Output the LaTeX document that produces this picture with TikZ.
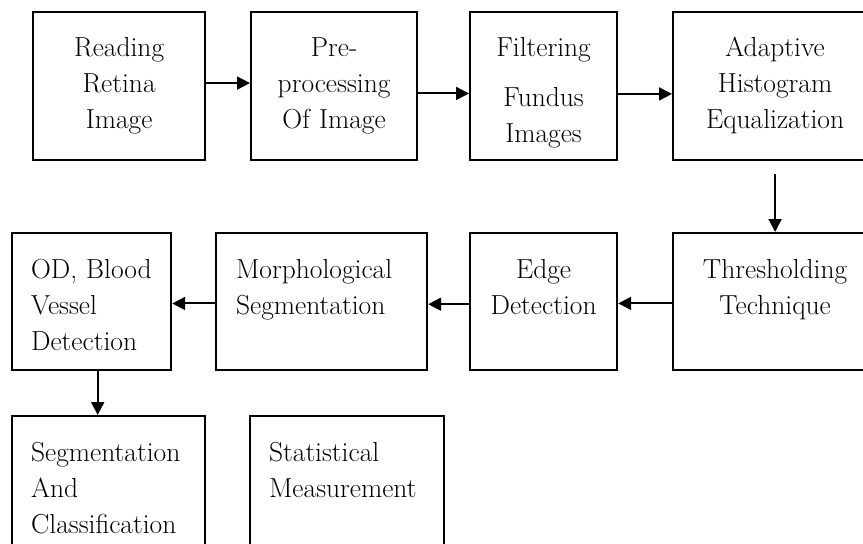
\documentclass[tikz,border=0pt]{standalone}
\usepackage{fontspec}
\usepackage{tikz}
\usetikzlibrary{shapes,arrows.meta}
\tikzstyle{line} = [draw, line width=2pt, -{Triangle[length=13pt, width=13pt]}]
\tikzstyle{stage_c} = [rectangle, draw, line width=2.2pt, anchor=north west, inner sep=0pt, text height=44pt, text depth=104pt, align=center, font=\fontsize{27.5}{36}\selectfont]
\tikzstyle{stage_l} = [rectangle, draw, line width=2.2pt, anchor=north west, inner ysep=0pt, inner xsep=19pt, text height=45pt, text depth=92pt, align=left, font=\fontsize{27.5}{36}\selectfont]
\begin{document}
\begin{tikzpicture}[x=1pt, y=-1pt]
		\useasboundingbox (0,0) rectangle (863,544);
		\clip (0,0) rectangle (863,544);

		\node[stage_c, text width=172pt] (read) at (32,11) {Reading\\Retina\\Image};
		\node[stage_c, text width=166pt] (pre) at (250,11) {Pre-\\processing\\Of Image};
		\node[stage_c, text width=147pt] (filt) at (469,11) {Filtering\\[14pt]Fundus\\Images};
		\node[stage_c, text width=204pt] (ahe) at (672,11) {Adaptive\\Histogram\\Equalization};
		\path [line] (read.2.7) to (read.2.7 -| pre.west);
		\path [line] (pre.-5.5) to (pre.-5.5 -| filt.west);
		\path [line] (filt.-6.2) to (filt.-6.2 -| ahe.west);

		\node[stage_c, text width=204pt, text height=45pt, text depth=92pt] (thr) at (672,232) {Thresholding\\Technique};
		\node[stage_c, text width=147pt, text height=45pt, text depth=92pt] (edge) at (469,232) {Edge\\Detection};
		\node[stage_l, text width=171pt, inner xsep=20pt] (morph) at (215,232) {Morphological\\Segmentation};
		\node[stage_l, text width=121pt] (od) at (11,232) {OD,\hspace{9pt}Blood\\Vessel\\Detection};
		\path [line, shorten <=13pt] (ahe.south) to (thr.north);
		\path [line] (thr.181.9) to (thr.181.9 -| edge.east);
		\path [line] (edge.182.7) to (edge.182.7 -| morph.east);
		\path [line] (morph.181.9) to (morph.181.9 -| od.east);

		\node[stage_l, text width=155pt, text depth=100pt] (seg) at (11,415) {Segmentation\\And\\Classification};
		\node[stage_l, text width=156pt, text depth=100pt] (stat) at (249,415) {Statistical\\Measurement};
		\path [line] (od.-85.4) to (od.-85.4 |- seg.north);
	\end{tikzpicture}
\end{document}
